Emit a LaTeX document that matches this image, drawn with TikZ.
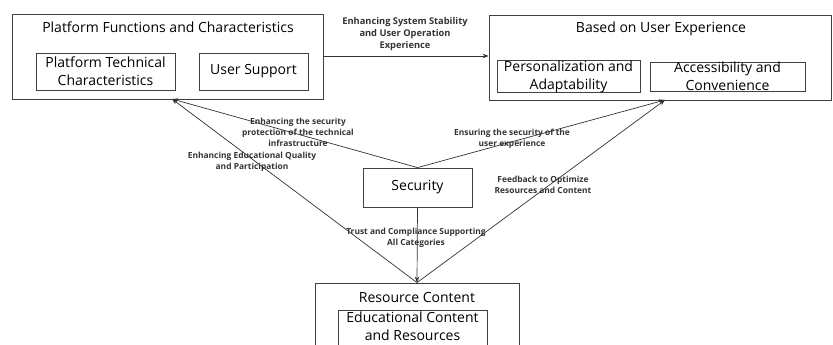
\documentclass[tikz,border=0pt]{standalone}
\usepackage{fontspec}
\setmainfont{Open Sans}
\usetikzlibrary{arrows.meta}

\tikzset{
  outerbox/.style={draw=black!75, line width=0.8pt, inner sep=0pt},
  innerbox/.style={draw=black!75, line width=0.8pt, align=center, inner sep=0pt,
    font=\fontsize{14}{18}\selectfont},
  boxtitle/.style={font=\fontsize{14}{16}\selectfont},
  edgetext/.style={align=center, font=\bfseries\fontsize{8.4}{11}\selectfont, text=black!80},
  link/.style={draw=black!80, line width=0.7pt, -{Stealth[length=6pt,width=4.5pt]}}
}

\begin{document}
\begin{tikzpicture}[x=1pt, y=-1pt]

\useasboundingbox (0,0) rectangle (833,345);

% outer boxes
\node [outerbox, minimum width=311pt, minimum height=85pt] (platform) at (167.5,56.5) {};
\node [outerbox, minimum width=342pt, minimum height=85pt] (ux) at (660,57.5) {};
\node [outerbox, minimum width=204pt, minimum height=90pt] (resource) at (417,328) {};

% titles
\node [boxtitle] (platformtitle) at (168,27) {Platform Functions and Characteristics};
\node [boxtitle] (uxtitle) at (661,29) {Based on User Experience};
\node [boxtitle] (resourcetitle) at (417,297) {Resource Content};

% inner boxes
\node [innerbox, minimum width=139pt, minimum height=37pt] (technical) at (105.5,71.5)
  {Platform Technical\\Characteristics};
\node [innerbox, minimum width=109pt, minimum height=37pt] (support) at (253.5,71.5)
  {User Support};
\node [innerbox, minimum width=143pt, minimum height=29pt] (personal) at (568.5,76.5)
  {Personalization and\\Adaptability};
\node [innerbox, minimum width=155pt, minimum height=29pt] (access) at (727.5,76.5)
  {Accessibility and\\Convenience};
\node [innerbox, minimum width=149pt, anchor=north, inner ysep=1pt] (educational) at (412.5,310)
  {Educational Content\\and Resources\\~};

% security
\node [innerbox, minimum width=109pt, minimum height=39pt] (security) at (417.5,187.5)
  {Security};

% end points of the arrows
\coordinate (ptip) at (172,99);
\coordinate (utip) at (665,100);

% connectors
\draw [link] (platform.east |- 0,56) -- (ux.west |- 0,56);
\draw [link] (security.north) -- (ptip);
\draw [link] (security.north) -- (utip);
\draw [link] (resource.north) -- (ptip);
\draw [link] (resource.north) -- (utip);
\draw [link] (security.south) -- (resource.north);

% connector labels
\node [edgetext, font=\bfseries\fontsize{9.3}{12}\selectfont] (stability) at (405,34)
  {Enhancing System Stability\\and User Operation\\Experience};
\node [edgetext] (infra) at (298,132)
  {Enhancing the security\\protection of the technical\\infrastructure};
\node [edgetext] (uxsafe) at (512,139)
  {Ensuring the security of the\\user experience};
\node [edgetext] (quality) at (252,162)
  {Enhancing Educational Quality\\and Participation};
\node [edgetext] (feedback) at (543,185)
  {Feedback to Optimize\\Resources and Content};
\node [edgetext] (trust) at (416,238)
  {Trust and Compliance Supporting\\All Categories};

\end{tikzpicture}
\end{document}
